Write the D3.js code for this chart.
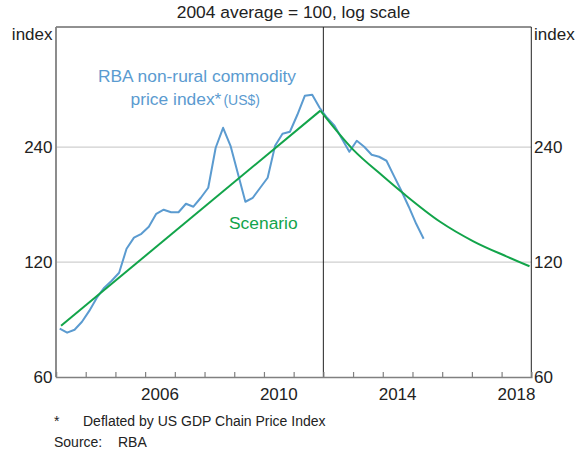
<!DOCTYPE html>
<html><head><meta charset="utf-8">
<script src="https://cdn.jsdelivr.net/npm/d3@7"></script>
<style>
body{margin:0;background:#fff;}
svg text{font-family:"Liberation Sans",Arial,sans-serif;}
</style></head>
<body><svg id="c" width="585" height="452"></svg>
<script>
// Data (quarterly, decimal years)
const priceDates = [2003.125,2003.375,2003.625,2003.875,2004.125,2004.375,2004.625,2004.875,
  2005.125,2005.375,2005.625,2005.875,2006.125,2006.375,2006.625,2006.875,
  2007.125,2007.375,2007.625,2007.875,2008.125,2008.375,2008.625,2008.875,
  2009.125,2009.375,2009.625,2009.875,2010.125,2010.375,2010.625,2010.875,
  2011.125,2011.375,2011.625,2011.875,2012.125,2012.375,2012.625,2012.875,
  2013.125,2013.375,2013.625,2013.875,2014.125,2014.375,2014.625,2014.875,
  2015.125,2015.375];
const priceValues = [80.3,78.4,79.8,83.7,89.5,96.8,102.8,107.2,
  112.5,130.0,139.0,142.3,148.4,160.5,164.5,162.0,
  162.0,170.5,167.5,176.8,187.8,239.0,269.6,241.9,
  204.4,172.6,176.8,187.8,199.5,241.9,260.0,263.2,
  291.6,327.0,329.0,304.2,286.4,272.9,252.3,233.3,
  249.3,240.5,229.1,226.4,221.0,201.8,184.4,167.5,
  151.1,138.1];
const scenarioRiseDates = [2003.17, 2011.9];
const scenarioRiseValues = [81.7, 299];
const scenarioFallDates = [2011.9, 2013.01, 2014.02, 2014.75, 2015.93, 2017.05, 2018.18, 2018.94];
const scenarioFallValues = [299, 236, 201, 180, 153, 136, 124, 117];
const yTicks = [60, 120, 240];
const xMinorTicks = [2004,2005,2006,2007,2008,2009,2010,2011,2012,2013,2014,2015,2016,2017,2018];
const xLabels = [2006, 2010, 2014, 2018];
const splitYear = 2012;

const svg = d3.select("#c");
const L = 56, R = 531.3, T = 27, B = 377;
const x = d3.scaleLinear().domain([2003, 2019]).range([L, R]);
const y = d3.scaleLog().domain([60, 495]).range([B, T]);

// gridlines
svg.append("g").selectAll("line").data(yTicks.filter(d => d > 60)).join("line")
  .attr("x1", L).attr("x2", R).attr("y1", d => y(d)).attr("y2", d => y(d))
  .attr("stroke", "#cfcfcf").attr("stroke-width", 1.2);

// frame
svg.append("line").attr("x1", L).attr("x2", R).attr("y1", T).attr("y2", T).attr("stroke", "#222").attr("stroke-width", 1);
svg.append("line").attr("x1", R).attr("x2", R).attr("y1", T).attr("y2", B).attr("stroke", "#222").attr("stroke-width", 1);
svg.append("line").attr("x1", x(splitYear)).attr("x2", x(splitYear)).attr("y1", T).attr("y2", B).attr("stroke", "#222").attr("stroke-width", 1);

// bottom axis with upward ticks
const xAxis = d3.axisBottom(x).tickValues(xMinorTicks).tickSize(-5).tickFormat("");
const gx = svg.append("g").attr("transform", `translate(0,${B})`).call(xAxis);
gx.select(".domain").attr("stroke", "#808080").attr("stroke-width", 1.5);
gx.selectAll(".tick line").attr("stroke", "#808080").attr("stroke-width", 1.2);
svg.append("line").attr("x1", L).attr("x2", L).attr("y1", T).attr("y2", B).attr("stroke", "#808080").attr("stroke-width", 1.8);

// x labels
svg.append("g").selectAll("text").data(xLabels).join("text")
  .attr("x", d => x(d + 0.5)).attr("y", 400).attr("text-anchor", "middle")
  .attr("font-size", 17).attr("fill", "#222").text(d => d);

// y labels left/right
svg.append("g").selectAll("text").data(yTicks).join("text")
  .attr("x", 52.5).attr("y", d => y(d)).attr("dy", "0.36em").attr("text-anchor", "end")
  .attr("font-size", 17).attr("fill", "#222").text(d => d);
svg.append("g").selectAll("text").data(yTicks).join("text")
  .attr("x", 534).attr("y", d => y(d)).attr("dy", "0.36em").attr("text-anchor", "start")
  .attr("font-size", 17).attr("fill", "#222").text(d => d);

svg.append("text").attr("x", 52.5).attr("y", 40).attr("text-anchor", "end").attr("font-size", 17).attr("fill", "#222").text("index");
svg.append("text").attr("x", 534).attr("y", 40).attr("text-anchor", "start").attr("font-size", 17).attr("fill", "#222").text("index");
svg.append("text").attr("x", 293.5).attr("y", 18).attr("text-anchor", "middle").attr("font-size", 17.4).attr("fill", "#222").text("2004 average = 100, log scale");

// lines
const line = d3.line().x(d => x(d[0])).y(d => y(d[1]));
const blue = "#5b9bd0", green = "#12a44a";
svg.append("path").datum(priceDates.map((d, i) => [d, priceValues[i]]))
  .attr("d", line).attr("fill", "none").attr("stroke", blue).attr("stroke-width", 2).attr("stroke-linejoin", "round");
svg.append("path").datum(scenarioRiseDates.map((d, i) => [d, scenarioRiseValues[i]]))
  .attr("d", line).attr("fill", "none").attr("stroke", green).attr("stroke-width", 2);
svg.append("path").datum(scenarioFallDates.map((d, i) => [d, scenarioFallValues[i]]))
  .attr("d", line.curve(d3.curveMonotoneX)).attr("fill", "none").attr("stroke", green).attr("stroke-width", 2);

// annotations
svg.append("text").attr("x", 197).attr("y", 82).attr("text-anchor", "middle").attr("font-size", 17.4).attr("fill", blue).text("RBA non-rural commodity");
const t2 = svg.append("text").attr("x", 130.5).attr("y", 104.5).attr("font-size", 17.4).attr("fill", blue);
t2.append("tspan").text("price index*");
t2.append("tspan").attr("font-size", 14).attr("dx", 2).text("(US$)");
svg.append("text").attr("x", 229).attr("y", 229).attr("font-size", 17.4).attr("fill", green).text("Scenario");

// footnotes
svg.append("text").attr("x", 54).attr("y", 426).attr("font-size", 14).attr("fill", "#222").text("*");
svg.append("text").attr("x", 83).attr("y", 426).attr("font-size", 14).attr("fill", "#222").text("Deflated by US GDP Chain Price Index");
svg.append("text").attr("x", 54).attr("y", 447).attr("font-size", 14).attr("fill", "#222").text("Source:");
svg.append("text").attr("x", 118).attr("y", 447).attr("font-size", 14).attr("fill", "#222").text("RBA");
</script></body></html>
